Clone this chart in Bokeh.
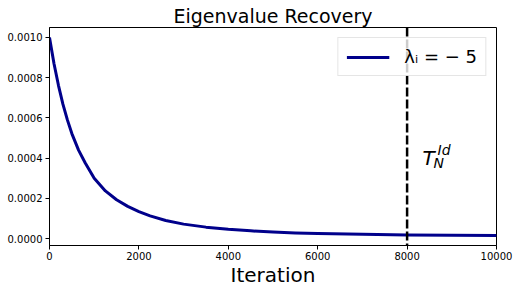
from bokeh.plotting import figure
from bokeh.models import (Range1d, FixedTicker, NumeralTickFormatter, Span, Label,
                          Legend, LegendItem, ColumnDataSource)
from bokeh.embed import file_html
from bokeh.resources import INLINE

# ---- data ----
iterations = [0, 100, 200, 300, 400, 500, 650, 800, 1000, 1250, 1500, 1750, 2000,
              2250, 2600, 3000, 3500, 4000, 4500, 5000, 5500, 6000, 7000, 8000,
              9000, 10000]
error = [0.001000, 0.000870, 0.000762, 0.000668, 0.000590, 0.000522, 0.000440,
         0.000376, 0.000300, 0.000237, 0.000193, 0.000160, 0.000134, 0.000113,
         0.000090, 0.000072, 0.000057, 0.0000465, 0.0000385, 0.0000325,
         0.000028, 0.000025, 0.000021, 0.000018, 0.0000163, 0.000015]
x_ticks = [0, 2000, 4000, 6000, 8000, 10000]
y_ticks = [0.0, 0.0002, 0.0004, 0.0006, 0.0008, 0.0010]
t_id = 8000
series_label = "λᵢ = − 5"
title_text = "Eigenvalue Recovery"
x_label = "Iteration"

FONT = "DejaVu Sans"

p = figure(width=518, height=292, output_backend="svg", toolbar_location=None,
           x_range=Range1d(0, 10000), y_range=Range1d(-0.0000343, 0.0010493),
           min_border_left=49, min_border_right=22, min_border_top=27,
           min_border_bottom=47, title=title_text)
p.background_fill_color = "white"
p.border_fill_color = "white"
p.outline_line_color = "black"
p.outline_line_width = 1
p.xgrid.visible = False
p.ygrid.visible = False

p.title.text_font = FONT
p.title.text_font_size = "19px"
p.title.text_font_style = "normal"
p.title.text_color = "black"
p.title.align = "center"
p.title.standoff = 1

for ax in (p.xaxis[0], p.yaxis[0]):
    ax.major_tick_in = 0
    ax.major_tick_out = 4
    ax.minor_tick_out = 0
    ax.minor_tick_in = 0
    ax.axis_line_color = "black"
    ax.major_tick_line_color = "black"
    ax.major_label_text_font = FONT
    ax.major_label_text_font_size = "10px"
    ax.major_label_text_color = "black"
    ax.major_label_standoff = 3
p.xaxis.ticker = FixedTicker(ticks=x_ticks)
p.yaxis.ticker = FixedTicker(ticks=y_ticks)
p.yaxis.formatter = NumeralTickFormatter(format="0.0000")
p.xaxis.axis_label = x_label
p.xaxis.axis_label_text_font = FONT
p.xaxis.axis_label_text_font_size = "20px"
p.xaxis.axis_label_text_font_style = "normal"
p.xaxis.axis_label_text_color = "black"
p.xaxis.axis_label_standoff = 0
p.xaxis.major_label_standoff = 2

src = ColumnDataSource(dict(x=iterations, y=error))
line = p.line("x", "y", source=src, line_color="#00008b", line_width=3,
              line_join="round")

span = Span(location=t_id, dimension="height", line_color="black",
            line_width=2.5, line_dash="9 3")
p.add_layout(span)

# T_N^{Id} label
label_x = t_id + 345
label_y = 0.000402
p.add_layout(Label(x=label_x, y=label_y, text="T", text_font=FONT,
                   text_font_style="italic", text_font_size="20px",
                   text_color="black", text_baseline="alphabetic"))
p.add_layout(Label(x=label_x, y=label_y, x_offset=11, y_offset=-5, text="N",
                   text_font=FONT, text_font_style="italic", text_font_size="14px",
                   text_color="black", text_baseline="alphabetic"))
p.add_layout(Label(x=label_x, y=label_y, x_offset=15, y_offset=8, text="Id",
                   text_font=FONT, text_font_style="italic", text_font_size="14px",
                   text_color="black", text_baseline="alphabetic"))

legend = Legend(items=[LegendItem(label=series_label, renderers=[line])],
                location="top_right", margin=10, padding=8, spacing=0,
                glyph_width=43, glyph_height=20, label_standoff=15,
                label_text_font=FONT, label_text_font_size="18px",
                label_text_color="black",
                border_line_color="#cccccc", border_line_width=1,
                background_fill_color="white", background_fill_alpha=0.8)
p.add_layout(legend)

open("out.html", "w").write(file_html(p, INLINE))
